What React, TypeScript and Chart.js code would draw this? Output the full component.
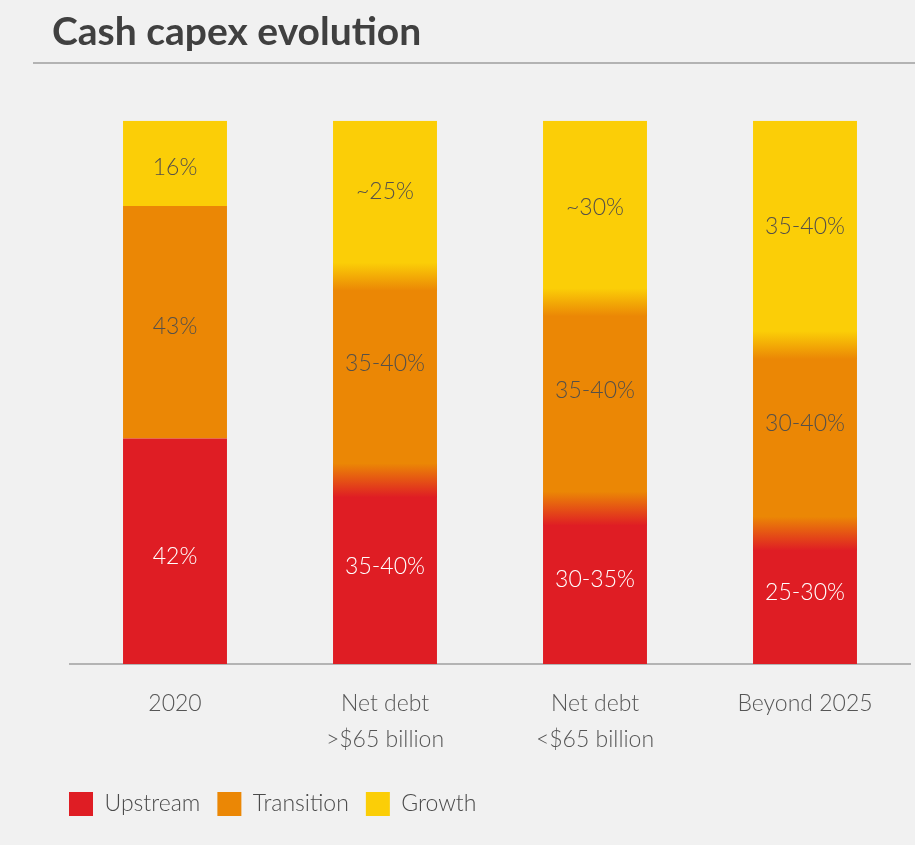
import React, { useEffect, useRef } from "react";
import { Chart, registerables } from "chart.js";

Chart.register(...registerables);

// ---- data ----
const categories: (string | string[])[] = [
  "2020",
  ["Net debt", ">$65 billion"],
  ["Net debt", "<$65 billion"],
  "Beyond 2025",
];
const upstream = [41.5, 33.8, 28.6, 24.0];
const transition = [42.8, 37.5, 38.0, 34.7];
const growth = [15.7, 28.7, 33.4, 41.3];
const upstreamLabels = ["42%", "35-40%", "30-35%", "25-30%"];
const transitionLabels = ["43%", "35-40%", "35-40%", "30-40%"];
const growthLabels = ["16%", "~25%", "~30%", "35-40%"];
const blendedBars = [false, true, true, true];

const RED = "#DF1D24";
const ORANGE = "#EB8705";
const YELLOW = "#FBCE07";
const FONT = "Lato, 'DejaVu Sans', sans-serif";

// per-segment vertical nudges for the in-bar labels (px), [bar][dataset]
const labelNudge = [
  [5, 4, 4],
  [-6, -15, -7],
  [-7, -15, -4],
  [-6, -16, -6],
];

const overlayPlugin = {
  id: "overlay",
  afterDatasetsDraw(chart: any) {
    const ctx = chart.ctx as CanvasRenderingContext2D;
    const colors = [RED, ORANGE, YELLOW];
    const halfBlend = [17, 14];
    for (let i = 0; i < categories.length; i++) {
      if (!blendedBars[i]) continue;
      for (let k = 0; k < 2; k++) {
        const lower = chart.getDatasetMeta(k).data[i] as any;
        const yb = lower.y;
        const x0 = lower.x - lower.width / 2;
        const h = halfBlend[k];
        const g = ctx.createLinearGradient(0, yb - h, 0, yb + h);
        g.addColorStop(0, colors[k + 1]);
        g.addColorStop(1, colors[k]);
        ctx.save();
        ctx.fillStyle = g;
        ctx.fillRect(x0, yb - h, lower.width, 2 * h);
        ctx.restore();
      }
    }
    const labelSets = [upstreamLabels, transitionLabels, growthLabels];
    ctx.save();
    ctx.font = `300 23px ${FONT}`;
    ctx.textAlign = "center";
    ctx.textBaseline = "middle";
    for (let k = 0; k < 3; k++) {
      const meta = chart.getDatasetMeta(k);
      meta.data.forEach((el: any, i: number) => {
        const cy = (el.y + el.base) / 2 + labelNudge[i][k];
        ctx.fillStyle = k === 0 ? "#ffffff" : "#555049";
        ctx.fillText(labelSets[k][i], el.x, cy);
      });
    }
    ctx.restore();
  },
  afterDraw(chart: any) {
    const ctx = chart.ctx as CanvasRenderingContext2D;
    ctx.save();
    ctx.strokeStyle = "#b3b3b3";
    ctx.lineWidth = 2;
    ctx.beginPath();
    ctx.moveTo(33, 63);
    ctx.lineTo(915, 63);
    ctx.stroke();
    ctx.restore();
  },
};

export default function App() {
  const ref = useRef<HTMLCanvasElement | null>(null);

  useEffect(() => {
    if (!ref.current) return;
    const chart = new Chart(ref.current, {
      type: "bar",
      data: {
        labels: categories as any,
        datasets: [
          { label: "Upstream", data: upstream, backgroundColor: RED, borderWidth: 0 },
          { label: "Transition", data: transition, backgroundColor: ORANGE, borderWidth: 0 },
          { label: "Growth", data: growth, backgroundColor: YELLOW, borderWidth: 0 },
        ],
      },
      options: {
        responsive: false,
        animation: false,
        maintainAspectRatio: false,
        datasets: { bar: { barPercentage: 0.495, categoryPercentage: 1 } },
        layout: { padding: { left: 52, right: 5, top: 0, bottom: 19 } },
        plugins: {
          tooltip: { enabled: false },
          title: {
            display: true,
            text: "Cash capex evolution",
            align: "start",
            color: "#404040",
            font: { family: FONT, size: 39, weight: "bold", lineHeight: 1.2 },
            padding: { top: 9, bottom: 65 },
          },
          legend: {
            position: "bottom",
            align: "start",
            labels: {
              color: "#4a4a4a",
              font: { family: FONT, size: 23, weight: "300" },
              boxWidth: 24,
              boxHeight: 24,
              padding: 17,
            },
          },
        },
        scales: {
          x: {
            stacked: true,
            grid: { display: false },
            border: { display: true, color: "#b4b4b4", width: 2 },
            ticks: {
              color: "#555555",
              font: { family: FONT, size: 23, weight: "300", lineHeight: 1.565 },
              padding: 14,
              maxRotation: 0,
              autoSkip: false,
            },
            afterFit: (s: any) => {
              s.height = 111;
            },
          },
          y: {
            stacked: true,
            min: 0,
            max: 100,
            display: true,
            grid: { display: false },
            border: { display: false },
            ticks: { display: false },
            afterFit: (s: any) => {
              s.width = 18;
            },
          },
        },
      },
      plugins: [overlayPlugin],
    });
    return () => chart.destroy();
  }, []);

  return (
    <div
      style={{
        position: "absolute",
        left: 0,
        top: 0,
        width: 915,
        height: 845,
        background: "#f1f1f1",
      }}
    >
      <canvas ref={ref} width={915} height={845} style={{ display: "block" }} />
    </div>
  );
}
